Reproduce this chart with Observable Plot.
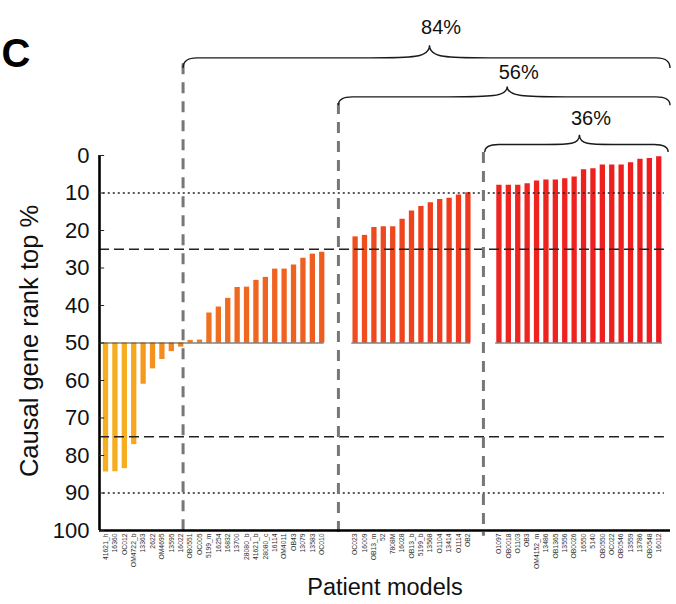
<!DOCTYPE html>
<html>
<head>
<meta charset="utf-8">
<script src="https://cdn.jsdelivr.net/npm/d3@7"></script>
<script src="https://cdn.jsdelivr.net/npm/@observablehq/plot@0.6"></script>
<style>
  html, body { margin: 0; padding: 0; background: #fff; }
  #chart { width: 676px; height: 604px; }
</style>
</head>
<body>
<div id="chart"></div>
<script>
// ---- data ----
const groupA = ["41621_h","16360","OC012","OM4722_b","13363","2622","OM4695","13595","16022","OB0551","OC005","5199_m","16254","16832","13700","28080_b","41621_b","28080_c","16114","OM4011","OB43","13079","13583","OC010"];
const valuesA = [84.4, 84.3, 83.5, 77.1, 61, 56.9, 54.4, 52.3, 51.1, 49.3, 49.2, 42, 40.4, 38.1, 35.2, 35.1, 33.3, 32.5, 30.3, 30.3, 29.2, 27.4, 26.3, 25.8];
const groupB = ["OC023","16009","OB13_m","52","7808M","16028","OB13_b","5199_b","13568","O1104","13414","O1114","OB2"];
const valuesB = [21.7, 21.3, 19.2, 19.0, 19.0, 17.0, 14.8, 13.6, 12.6, 11.7, 11.4, 10.5, 9.9];
const groupC = ["O1097","OB0018","O1103","OB3","OM4152_m","13486","OB1365","13556","OB0026","16550","5140","OB0550","OC022","OB0546","13559","13786","OB0548","16012"];
const valuesC = [7.9, 7.9, 7.9, 7.5, 6.8, 6.5, 6.5, 6.2, 5.7, 3.8, 3.5, 2.5, 2.5, 2.5, 1.9, 1.0, 0.8, 0.3];
const yTicks = [0, 10, 20, 30, 40, 50, 60, 70, 80, 90, 100];
const shares = ["84%", "56%", "36%"];
const refDotted = [10, 90];
const refDashed = [25, 75];

// ---- layout helpers (slot positions) ----
const gapAB = 3.55, gapBC = 3.3;
const bars = [];
groupA.forEach((n, i) => bars.push({name: n, value: valuesA[i], pos: i, g: 0}));
const startB = groupA.length - 1 + gapAB;
groupB.forEach((n, i) => bars.push({name: n, value: valuesB[i], pos: startB + i, g: 1}));
const startC = startB + groupB.length - 1 + gapBC;
groupC.forEach((n, i) => bars.push({name: n, value: valuesC[i], pos: startC + i, g: 2}));
const lastPos = startC + groupC.length - 1;
const xMin = -0.64, xMax = lastPos + 1.25;
const nameByPos = new Map(bars.map(d => [d.pos, d.name]));

const div1 = 8.25;
const div2 = groupA.length - 1 + gapAB / 2;
const div3 = startB + groupB.length - 1 + gapBC / 2;

const baseSegs = [
  {x1: xMin, x2: groupA.length - 1 + 0.25},
  {x1: startB - 0.35, x2: startB + groupB.length - 1 + 0.3},
  {x1: startC - 0.35, x2: lastPos + 0.4}
];
const dividers = [
  {x: div1, top: -24.5},
  {x: div2, top: -13.9},
  {x: div3, top: -0.8}
];
const braces = [
  {x1: div1 + 0.05, x2: xMax, yEnd: -23.2, yFlat: -25.9, yTip: -29.3, yText: -34.2, label: shares[0]},
  {x1: div2 + 0.05, x2: xMax, yEnd: -13.3, yFlat: -15.5, yTip: -18.3, yText: -22.2, label: shares[1]},
  {x1: div3 + 0.2, x2: xMax - 0.2, yEnd: -0.8, yFlat: -2.8, yTip: -5.4, yText: -9.9, label: shares[2]}
];

function braceRender(index, scales) {
  const g = d3.create("svg:g");
  for (const b of braces) {
    const x1 = scales.x(b.x1), x2 = scales.x(b.x2);
    const ye = scales.y(b.yEnd), yf = scales.y(b.yFlat), yt = scales.y(b.yTip);
    const xm = (x1 + x2) / 2 + 3;
    const r1 = 14;
    const r2 = Math.min(60, (xm - x1) * 0.35);
    const p = d3.path();
    p.moveTo(x1, ye);
    p.quadraticCurveTo(x1, yf, x1 + r1, yf);
    p.lineTo(xm - r2, yf);
    p.bezierCurveTo(xm - r2 * 0.3, yf, xm, yf, xm, yt);
    p.bezierCurveTo(xm, yf, xm + r2 * 0.3, yf, xm + r2, yf);
    p.lineTo(x2 - r1, yf);
    p.quadraticCurveTo(x2, yf, x2, ye);
    g.append("path").attr("d", p.toString()).attr("fill", "none")
      .attr("stroke", "#1a1a1a").attr("stroke-width", 1.4);
  }
  return g.node();
}

const font = "'Liberation Sans', Arial, Helvetica, sans-serif";

const chart = Plot.plot({
  width: 676,
  height: 604,
  marginTop: 155,
  marginBottom: 74,
  marginLeft: 99,
  marginRight: 6,
  style: {fontFamily: font, background: "#fff", color: "#222"},
  x: {type: "linear", domain: [xMin, xMax], axis: null},
  y: {domain: [0, 100], reverse: true, axis: null},
  color: {
    type: "linear",
    domain: [85, 60, 50, 40, 26, 20, 10, 8, 0],
    range: ["#f6ae1f", "#f49a1f", "#f17f20", "#f06d20", "#ef5d1f", "#ef4a1e", "#ef3a1d", "#ee2420", "#ee1c1f"],
    clamp: true
  },
  marks: [
    // bars
    Plot.ruleX(bars, {x: "pos", y1: 50, y2: "value", stroke: "value", strokeWidth: 5.3}),
    // baselines at 50
    Plot.ruleY(baseSegs, {y: 50, x1: "x1", x2: "x2", stroke: "#444", strokeWidth: 1.1}),
    // reference lines
    Plot.ruleY(refDotted, {x1: xMin + 0.4, x2: lastPos + 0.6, stroke: "#222", strokeWidth: 1.3, strokeDasharray: "2,3"}),
    Plot.ruleY(refDashed, {x1: xMin, x2: lastPos + 0.6, stroke: "#222", strokeWidth: 1.4, strokeDasharray: "10,5"}),
    // vertical dividers
    Plot.ruleX(dividers, {x: "x", y1: "top", y2: 101.5, stroke: "#777", strokeWidth: 3, strokeDasharray: "11,8"}),
    // axes lines
    Plot.ruleX([xMin], {y1: 0, y2: 100, stroke: "#000", strokeWidth: 2.6}),
    Plot.ruleY([100], {x1: xMin, x2: xMax, stroke: "#000", strokeWidth: 2.6}),
    // inward y ticks
    Plot.ruleY(yTicks, {x1: xMin, x2: xMin + 0.55, stroke: "#222", strokeWidth: 1}),
    Plot.axisY({ticks: yTicks, tickSize: 0, tickPadding: 10, fontSize: 22, label: null, fill: "#111"}),
    Plot.axisX({ticks: bars.map(d => d.pos), tickFormat: d => nameByPos.get(d), tickRotate: -90,
      tickSize: 0, tickPadding: 3, fontSize: 6.8, label: null, fill: "#333"}),
    // braces
    braceRender,
    Plot.text(braces, {x: d => (d.x1 + d.x2) / 2, y: "yText", text: "label", dx: 14, fontSize: 20, fill: "#111"}),
    // titles
    Plot.text(["Causal gene rank top %"], {frameAnchor: "left", dx: -70, dy: -2, rotate: -90, textAnchor: "middle", fontSize: 25.5, fill: "#111"}),
    Plot.text(["Patient models"], {frameAnchor: "bottom", dy: 64, textAnchor: "middle", fontSize: 23.5, fill: "#111"}),
    Plot.text(["C"], {frameAnchor: "top-left", dx: -98, dy: -117, textAnchor: "start", fontSize: 40, fontWeight: "bold", fill: "#000"})
  ]
});
document.getElementById("chart").appendChild(chart);
</script>
</body>
</html>
